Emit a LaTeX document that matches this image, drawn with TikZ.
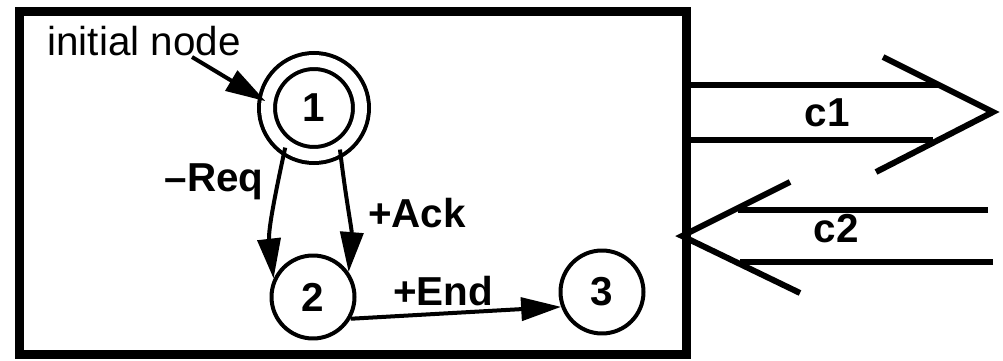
\documentclass[tikz,border=0pt]{standalone}
\usepackage{fontspec}
\setmainfont{Liberation Sans}
\usetikzlibrary{arrows.meta}

\newcommand{\lblsize}{\fontsize{23pt}{27pt}\selectfont}

\begin{document}
\begin{tikzpicture}[x=0.02cm,y=-0.02cm,
    statenode/.style={circle,draw,line width=0.08cm,minimum size=1.66cm,
      inner sep=0pt,font=\lblsize\bfseries},
    trans/.style={line width=0.08cm,-{Triangle[length=0.8cm,width=0.46cm]}},
    chan/.style={line width=0.12cm},
    lbl/.style={font=\lblsize\bfseries,anchor=base,inner sep=0pt}]
  \useasboundingbox (0,0) rectangle (1003,361);

  % Process box
  \draw[line width=0.18cm] (19.5,11.5) rectangle (686,354);

  % States
  \node[statenode,double,double distance=0.24cm,minimum size=1.88cm] (n1) at (314,108) {1};
  \node[statenode] (n2) at (313,297) {2};
  \node[statenode] (n3) at (602,292) {3};

  % Initial marker
  \node[font=\lblsize] (init) at (144,41) {initial node};
  \coordinate (initfoot) at (192,57);
  \draw[trans] (initfoot) -- (n1.172);

  % Transitions
  \draw[trans] (n1.234) .. controls (276,190) and (268,230) .. (n2.155);
  \draw[trans] (n1.302) .. controls (346,200) and (352,230) .. (n2.35);
  \draw[trans] (n2.-30) -- (n3.200);
  \node[lbl] (lreq) at (214,192) {--Req};
  \node[lbl] (lack) at (417,227) {+Ack};
  \node[lbl] (lend) at (443,305) {+End};

  % Channel c1 (outgoing)
  \coordinate (c1top) at (940,85);
  \coordinate (c1bot) at (933,140);
  \draw[chan] (690,85) -- (c1top);
  \draw[chan] (690,140) -- (c1bot);
  \draw[chan] (883,57) -- (993,112) -- (876,172);
  \node[lbl] (lc1) at (827,127) {c1};

  % Channel c2 (incoming)
  \coordinate (c2top) at (988,210);
  \coordinate (c2bot) at (993,262);
  \draw[chan] (c2top) -- (738,210);
  \draw[chan] (c2bot) -- (740,262);
  \draw[chan] (790,182) -- (682,236) -- (800,293);
  \node[lbl] (lc2) at (836,242) {c2};
\end{tikzpicture}
\end{document}
